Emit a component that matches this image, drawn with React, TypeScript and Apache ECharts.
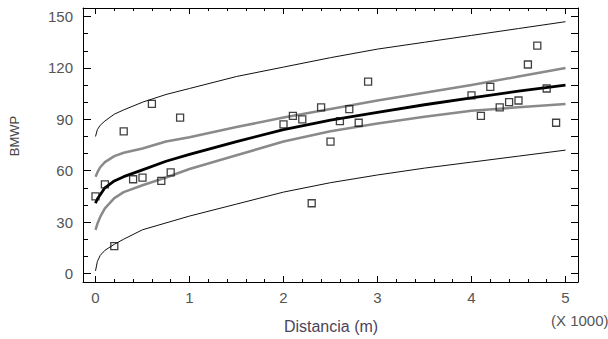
import React, { useEffect, useRef } from "react";
import * as echarts from "echarts";

// Observations: distance (x1000 m) and BMWP
const OBS_X = [0, 0.1, 0.2, 0.3, 0.4, 0.5, 0.6, 0.7, 0.8, 0.9, 2.0, 2.1, 2.2, 2.3, 2.4, 2.5, 2.6, 2.7, 2.8, 2.9, 4.0, 4.1, 4.2, 4.3, 4.4, 4.5, 4.6, 4.7, 4.8, 4.9];
const OBS_Y = [45, 52, 16, 83, 55, 56, 99, 54, 59, 91, 87, 92, 90, 41, 97, 77, 89, 96, 88, 112, 104, 92, 109, 97, 100, 101, 122, 133, 108, 88];

// Curves
const CURVE_X = [0, 0.02, 0.05, 0.1, 0.2, 0.3, 0.5, 0.75, 1, 1.5, 2, 2.5, 3, 3.5, 4, 4.5, 5];
const FIT = [41, 43.5, 46, 50, 54, 56.5, 60.5, 65.5, 69.5, 77, 84, 89.5, 94, 98.5, 102.5, 106.5, 110];
const CONF_UP = [56.5, 59, 62, 65, 68.5, 70.5, 73, 77, 79.5, 85.5, 91, 96, 101, 105.5, 110, 115, 120];
const CONF_LO = [25.5, 29, 33, 38, 44, 47.5, 51.5, 56, 61, 69, 77, 83, 87.5, 91.5, 95, 97, 99];
const PRED_UP = [80, 84, 86.5, 89, 93, 95.5, 100, 104.5, 108, 115, 120.5, 126, 131, 135, 139, 143, 147];
const PRED_LO = [1.5, 7, 10.5, 13.5, 17, 20, 25.5, 29.5, 33.5, 40.5, 47.5, 53, 57.5, 61.5, 65, 68.5, 72];

const X_TICKS = [0, 1, 2, 3, 4, 5];
const X_MINOR = [0.2, 0.4, 0.6, 0.8, 1.2, 1.4, 1.6, 1.8, 2.2, 2.4, 2.6, 2.8, 3.2, 3.4, 3.6, 3.8, 4.2, 4.4, 4.6, 4.8];
const Y_TICKS = [0, 30, 60, 90, 120, 150];
const Y_MINOR = [10, 20, 40, 50, 70, 80, 100, 110, 130, 140];

const X_LABEL = "Distancia (m)";
const Y_LABEL = "BMWP";
const X_SCALE = "(X 1000)";

const XMIN = -0.133;
const XMAX = 5.133;
const YMIN = -5;
const YMAX = 155;

const pair = (xs: number[], ys: number[]) => xs.map((x, i) => [x, ys[i]]);

export default function App() {
  const ref = useRef<HTMLDivElement>(null);
  useEffect(() => {
    document.body.style.margin = "0";
    const chart = echarts.init(ref.current!, null, { renderer: "svg" });
    const labelColor = "#555";
    const xAx = (pos: string, vals: number[], len: number, labels: boolean, line: boolean) => ({
      type: "value",
      position: pos,
      min: XMIN,
      max: XMAX,
      axisLine: { show: line, onZero: false, lineStyle: { color: "#000", width: 1 } },
      axisTick: { show: true, inside: true, length: len, customValues: vals, lineStyle: { color: "#000", width: 1 } },
      axisLabel: labels
        ? { show: true, customValues: X_TICKS, fontSize: 15, color: labelColor, margin: 8, fontFamily: "Liberation Sans, Arial" }
        : { show: false },
      splitLine: { show: false },
    });
    const yAx = (pos: string, vals: number[], len: number, labels: boolean, line: boolean) => ({
      type: "value",
      position: pos,
      min: YMIN,
      max: YMAX,
      axisLine: { show: line, onZero: false, lineStyle: { color: "#000", width: 1 } },
      axisTick: { show: true, inside: true, length: len, customValues: vals, lineStyle: { color: "#000", width: 1 } },
      axisLabel: labels
        ? { show: true, customValues: Y_TICKS, fontSize: 15, color: labelColor, margin: 10, fontFamily: "Liberation Sans, Arial" }
        : { show: false },
      splitLine: { show: false },
    });
    const lineSeries = (ys: number[], color: string, width: number) => ({
      type: "line",
      data: pair(CURVE_X, ys),
      showSymbol: false,
      symbol: "none",
      smooth: false,
      lineStyle: { color, width, join: "round" },
      silent: true,
      z: 2,
    });
    chart.setOption({
      animation: false,
      backgroundColor: "#fff",
      grid: { left: 83, right: 30, top: 8, bottom: 57, containLabel: false },
      xAxis: [
        xAx("bottom", X_TICKS, 6, true, true),
        xAx("bottom", X_MINOR, 3, false, false),
        xAx("top", X_TICKS, 6, false, true),
        xAx("top", X_MINOR, 3, false, false),
      ],
      yAxis: [
        yAx("left", Y_TICKS, 8, true, true),
        yAx("left", Y_MINOR, 5, false, false),
        yAx("right", Y_TICKS, 7, false, true),
        yAx("right", Y_MINOR, 7, false, false),
      ],
      series: [
        lineSeries(PRED_UP, "#111", 1),
        lineSeries(PRED_LO, "#111", 1),
        lineSeries(CONF_UP, "#8a8a8a", 2.5),
        lineSeries(CONF_LO, "#8a8a8a", 2.5),
        lineSeries(FIT, "#000", 2.8),
        {
          type: "scatter",
          data: pair(OBS_X, OBS_Y),
          symbol: "rect",
          symbolSize: 7,
          itemStyle: { color: "rgba(255,255,255,0)", borderColor: "#111", borderWidth: 1.3 },
          z: 3,
        },
      ],
      graphic: [
        {
          type: "text",
          x: 14,
          y: 136,
          rotation: Math.PI / 2,
          style: {
            text: Y_LABEL,
            fontSize: 13,
            fill: "#444",
            fontFamily: "Liberation Sans, Arial",
            align: "center",
            verticalAlign: "middle",
          },
        },
        {
          type: "text",
          x: 331,
          y: 326,
          style: {
            text: X_LABEL,
            fontSize: 16,
            fill: "#4d4358",
            fontFamily: "Liberation Sans, Arial",
            align: "center",
            verticalAlign: "middle",
          },
        },
        {
          type: "text",
          x: 551,
          y: 320,
          style: {
            text: X_SCALE,
            fontSize: 15,
            fill: labelColor,
            fontFamily: "Liberation Sans, Arial",
            align: "left",
            verticalAlign: "middle",
          },
        },
      ],
    });
    return () => chart.dispose();
  }, []);
  return <div ref={ref} style={{ position: "fixed", left: 0, top: 0, width: 608, height: 339 }} />;
}
